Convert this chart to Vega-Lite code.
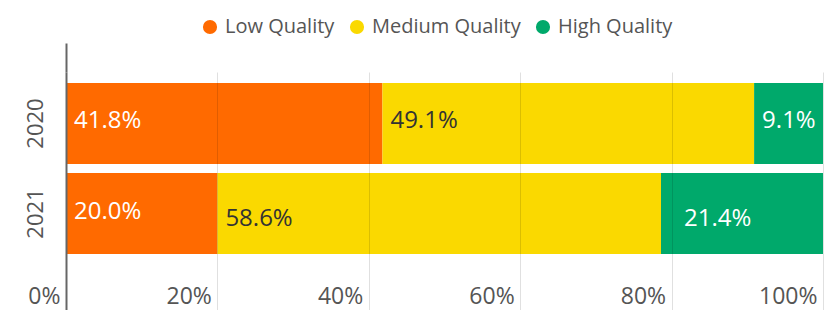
{
  "$schema": "https://vega.github.io/schema/vega-lite/v6.json",
  "autosize": {"type": "none"},
  "width": 757,
  "height": 238,
  "padding": {"left": 66, "top": 72, "right": 15, "bottom": 0},
  "background": "white",
  "config": {
    "view": {"stroke": null},
    "font": "Open Sans",
    "axis": {"labelFont": "Open Sans"},
    "legend": {"labelFont": "Open Sans"}
  },
  "data": {
    "values": [
      {"year": "2020", "quality": "Low Quality", "pct": 41.8},
      {"year": "2020", "quality": "Medium Quality", "pct": 49.1},
      {"year": "2020", "quality": "High Quality", "pct": 9.1},
      {"year": "2021", "quality": "Low Quality", "pct": 20.0},
      {"year": "2021", "quality": "Medium Quality", "pct": 58.6},
      {"year": "2021", "quality": "High Quality", "pct": 21.4}
    ]
  },
  "transform": [
    {"calculate": "indexof(['Low Quality','Medium Quality','High Quality'], datum.quality)", "as": "order"},
    {"calculate": "format(datum.pct, '.1f') + '%'", "as": "label"},
    {"stack": "pct", "groupby": ["year"], "sort": [{"field": "order", "order": "ascending"}], "as": ["x0", "x1"]}
  ],
  "encoding": {
    "y": {
      "field": "year",
      "type": "nominal",
      "title": null,
      "scale": {"paddingInner": 0.1, "paddingOuter": 0.372, "align": 0.164},
      "axis": {
        "labelAngle": 270,
        "labelAlign": "center",
        "labelBaseline": "middle",
        "labelPadding": 31,
        "ticks": false,
        "labelFontSize": 22,
        "labelColor": "#555555",
        "domainColor": "#666666",
        "domainWidth": 2,
        "zindex": 2
      }
    }
  },
  "layer": [
    {
      "mark": {"type": "bar"},
      "encoding": {
        "x": {
          "field": "x0",
          "type": "quantitative",
          "scale": {"domain": [0, 100], "nice": false},
          "title": null,
          "axis": {
            "orient": "bottom",
            "values": [0, 20, 40, 60, 80, 100],
            "labelExpr": "datum.value + '%'",
            "domain": false,
            "ticks": false,
            "tickSize": 0,
            "labelPadding": -7,
            "labelBaseline": "alphabetic",
            "labelAlign": "right",
            "labelOffset": -6,
            "labelFontSize": 23,
            "labelColor": "#555555",
            "labelOverlap": false,
            "labelBound": false,
            "labelFlush": false,
            "grid": true,
            "gridColor": "#000000",
            "gridOpacity": 0.12,
            "gridWidth": 1,
            "zindex": 1
          }
        },
        "x2": {"field": "x1"},
        "color": {
          "field": "quality",
          "type": "nominal",
          "sort": ["Low Quality", "Medium Quality", "High Quality"],
          "scale": {
            "domain": ["Low Quality", "Medium Quality", "High Quality"],
            "range": ["#FF6A00", "#FAD900", "#00A96B"]
          },
          "legend": {
            "title": null,
            "orient": "none",
            "direction": "horizontal",
            "legendX": 134,
            "legendY": -55,
            "symbolType": "circle",
            "symbolSize": 200,
            "symbolStrokeWidth": 0,
            "labelFontSize": 20,
            "labelColor": "#555555",
            "labelOffset": 5,
            "columnPadding": 12
          }
        }
      }
    },
    {
      "transform": [{"filter": "datum.year == '2020' || datum.quality == 'Low Quality'"}],
      "mark": {"type": "text", "align": "left", "baseline": "middle", "dx": 8, "dy": -2, "fontSize": 24},
      "encoding": {
        "x": {
          "field": "x0",
          "type": "quantitative",
          "axis": {
            "orient": "top",
            "values": [0],
            "labels": false,
            "domain": false,
            "grid": false,
            "ticks": true,
            "tickSize": 29,
            "tickWidth": 2,
            "tickColor": "#666666",
            "title": null
          }
        },
        "text": {"field": "label"},
        "color": {
          "condition": {"test": "datum.quality == 'Medium Quality'", "value": "#333333"},
          "value": "#ffffff"
        }
      }
    },
    {
      "transform": [{"filter": "datum.year == '2021' && datum.quality == 'Medium Quality'"}],
      "mark": {"type": "text", "align": "left", "baseline": "middle", "dx": 8, "dy": 5, "fontSize": 24, "color": "#333333"},
      "encoding": {
        "x": {"field": "x0", "type": "quantitative", "axis": null},
        "text": {"field": "label"}
      }
    },
    {
      "transform": [{"filter": "datum.year == '2021' && datum.quality == 'High Quality'"}],
      "mark": {"type": "text", "align": "left", "baseline": "middle", "dx": 23, "dy": 5, "fontSize": 24, "color": "#ffffff"},
      "encoding": {
        "x": {"field": "x0", "type": "quantitative", "axis": null},
        "text": {"field": "label"}
      }
    }
  ],
  "resolve": {"axis": {"x": "independent"}}
}
